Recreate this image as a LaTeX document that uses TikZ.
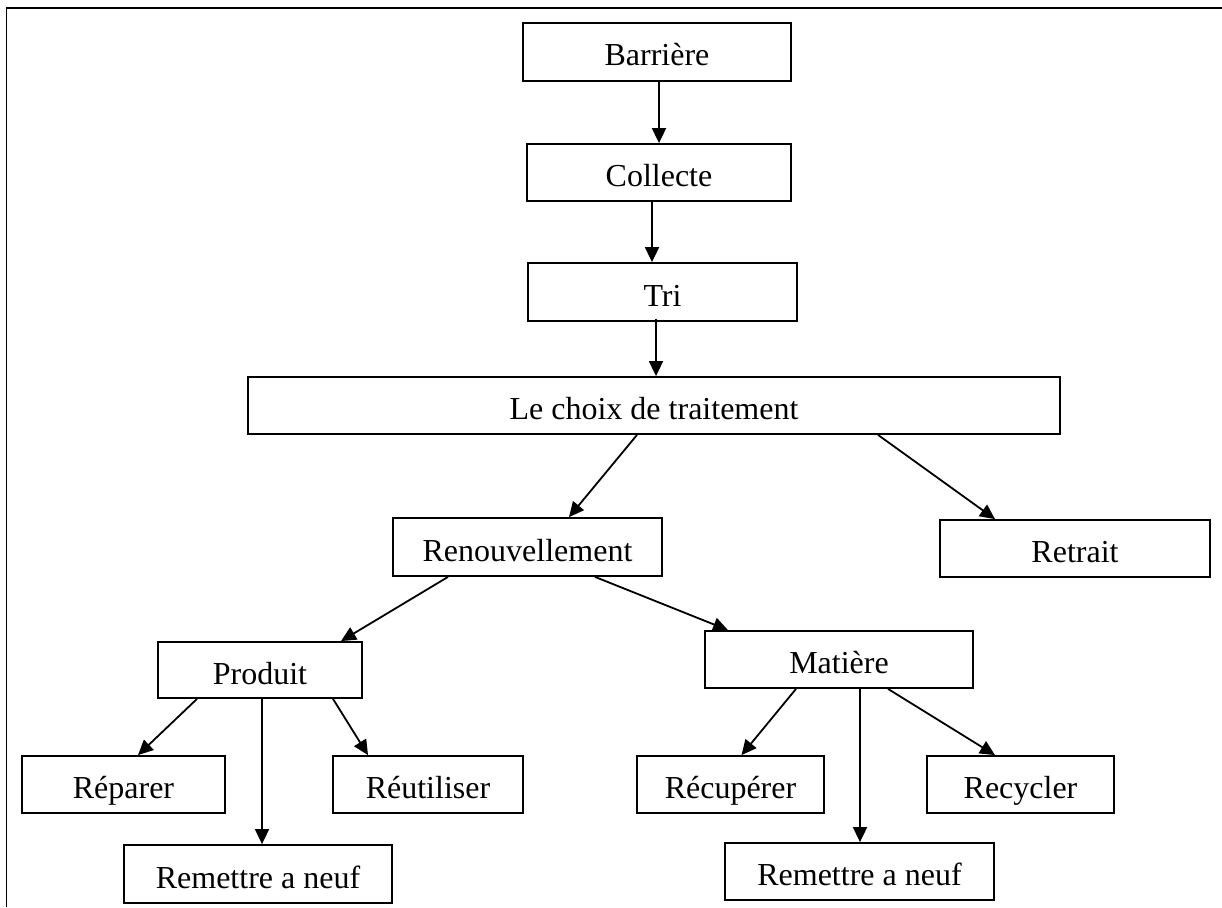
\documentclass[tikz,border=0pt]{standalone}
\usepackage{fontspec}
\setmainfont{Liberation Serif}
\usetikzlibrary{arrows.meta}
\begin{document}
\begin{tikzpicture}[x=1pt,y=-1pt,
  box/.style={draw, line width=1.8pt, inner sep=0pt, text height=28pt, text depth=0pt, font=\fontsize{32}{38}\selectfont},
  arr/.style={line width=1.8pt, -{Triangle[length=15pt,width=14pt]}}]
\useasboundingbox (0,0) rectangle (1222,907);
\draw[line width=1.8pt] (6.5,907) -- (6.5,8) -- (1222,8);
\node[box, minimum width=268pt, minimum height=58pt] (bar) at (657,52) {Barrière};
\node[box, minimum width=264pt, minimum height=57pt] (col) at (659,172.5) {Collecte};
\node[box, minimum width=269pt, minimum height=58pt] (tri) at (662.5,292) {Tri};
\node[box, minimum width=812pt, minimum height=57pt] (choix) at (654,405.5) {Le choix de traitement};
\node[box, minimum width=269pt, minimum height=58pt] (ren) at (527.5,547) {Renouvellement};
\node[box, minimum width=270pt, minimum height=57pt] (ret) at (1075,548.5) {Retrait};
\node[box, minimum width=204pt, minimum height=56pt] (prod) at (260,670) {Produit};
\node[box, minimum width=268pt, minimum height=57pt] (mat) at (839,659.5) {Matière};
\node[box, minimum width=203pt, minimum height=57pt] (rep) at (123.5,784.5) {Réparer};
\node[box, minimum width=190pt, minimum height=57pt] (reu) at (428,784.5) {Réutiliser};
\node[box, minimum width=187pt, minimum height=57pt] (recu) at (730.5,784.5) {Récupérer};
\node[box, minimum width=187pt, minimum height=57pt] (recy) at (1020.5,784.5) {Recycler};
\node[box, minimum width=268pt, minimum height=58pt] (rem1) at (258,874) {Remettre a neuf};
\node[box, minimum width=269pt, minimum height=57pt] (rem2) at (859.5,871.5) {Remettre a neuf};
\draw[arr] ([xshift=2pt]bar.south) -- (col.north);
\draw[arr] ([xshift=-7pt]col.south) -- ([xshift=-10.5pt]tri.north);
\draw[arr] ([xshift=-6.5pt,yshift=3pt]tri.south) -- ([xshift=-6.5pt]tri.south |- choix.north);
\draw[arr] ([xshift=-17pt]choix.south) -- ([xshift=41.5pt]ren.north);
\draw[arr] ([xshift=224pt]choix.south) -- ([xshift=-80pt]ret.north);
\draw[arr] ([xshift=-79.5pt]ren.south) -- ([xshift=81pt]prod.north);
\draw[arr] ([xshift=67.5pt]ren.south) -- ([xshift=-111pt]mat.north);
\draw[arr] ([xshift=-63pt]prod.south) -- ([xshift=14.5pt]rep.north);
\draw[arr] ([xshift=2pt]prod.south) -- ([xshift=2pt]prod.south |- rem1.north);
\draw[arr] ([xshift=73pt]prod.south) -- ([xshift=-60pt]reu.north);
\draw[arr] ([xshift=-43pt]mat.south) -- ([xshift=11pt]recu.north);
\draw[arr] ([xshift=21pt]mat.south) -- ([xshift=21pt]mat.south |- rem2.north);
\draw[arr] ([xshift=49pt]mat.south) -- ([xshift=-25.5pt]recy.north);
\end{tikzpicture}
\end{document}
